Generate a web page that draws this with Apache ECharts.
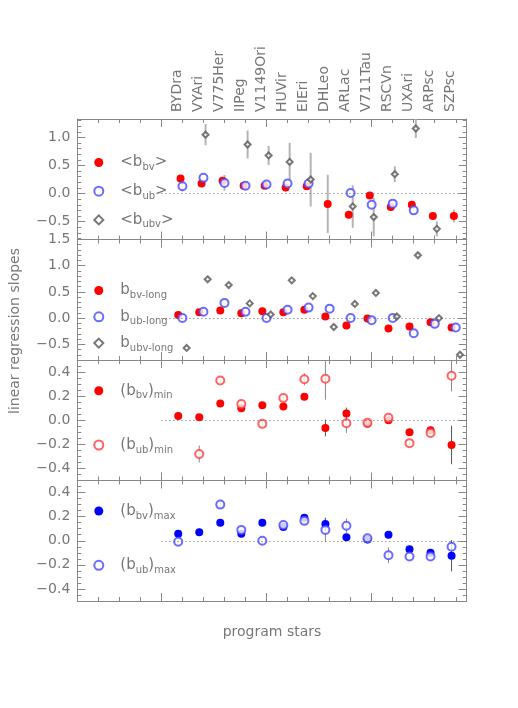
<!DOCTYPE html>
<html>
<head>
<meta charset="utf-8">
<script src="https://cdn.jsdelivr.net/npm/echarts@6/dist/echarts.min.js"></script>
<style>
  html, body { margin: 0; background: #fff; }
  #chart { width: 518px; height: 708px; }
</style>
</head>
<body>
<div id="chart"></div>
<script>
  // star names (x categories)
  const stars = ['BYDra', 'VYAri', 'V775Her', 'IIPeg', 'V1149Ori', 'HUVir', 'EIEri', 'DHLeo',
    'ARLac', 'V711Tau', 'RSCVn', 'UXAri', 'ARPsc', 'SZPsc']

  // panel 1: mean slopes
  const bvMean = [0.27, 0.18, 0.23, 0.14, 0.14, 0.11, 0.13, -0.185, -0.38, -0.035, -0.24, -0.20, -0.40, -0.40]
  const bvMeanErr = [0.03, 0.02, 0.02, 0.02, 0.02, 0.02, 0.02, 0.52, 0.06, 0.02, 0.02, 0.02, 0.05, 0.11]
  const ubMean = [0.13, 0.28, 0.19, 0.14, 0.16, 0.18, 0.18, null, 0.01, -0.20, -0.18, -0.30, null, null]
  const ubMeanErr = [0.09, 0, 0.14, 0, 0, 0, 0, 0, 0, 0, 0, 0, 0, 0]
  const ubvMean = [null, 1.05, null, 0.875, 0.68, 0.565, 0.25, null, -0.23, -0.42, 0.345, 1.16, -0.63, null]
  const ubvMeanErr = [0, 0.19, 0, 0.25, 0.17, 0.34, 0.48, 0, 0.38, 0.34, 0.14, 0.17, 0.13, 0]

  // panel 2: long-term slopes
  const bvLong = [0.06, 0.11, 0.145, 0.09, 0.13, 0.11, 0.16, 0.03, -0.14, -0.01, -0.20, -0.16, -0.08, -0.18]
  const ubLong = [0.0, 0.12, 0.29, 0.12, 0.0, 0.16, 0.20, 0.18, 0.0, -0.04, 0.0, -0.29, -0.11, -0.18]
  const ubvLong = [-0.57, 0.74, 0.63, 0.28, 0.07, 0.72, 0.42, -0.17, 0.27, 0.48, 0.03, 1.20, 0.0, -0.70]
  const ubvLongErr = [0, 0, 0, 0, 0, 0, 0, 0, 0, 0, 0.05, 0, 0, 0.04]

  // panel 3: slopes at minimum
  const bvMin = [0.036, 0.025, 0.14, 0.10, 0.125, 0.115, 0.195, -0.064, 0.055, -0.03, 0.0, -0.10, -0.083, -0.205]
  const bvMinErr = [0.03, 0.02, 0, 0, 0, 0, 0, 0.07, 0.05, 0.02, 0.02, 0, 0.02, 0.16]
  const ubMin = [null, -0.28, 0.33, 0.135, -0.03, 0.185, 0.34, 0.345, -0.025, -0.02, 0.02, -0.19, -0.105, 0.37]
  const ubMinErr = [0, 0.07, 0.02, 0.02, 0.02, 0.02, 0.05, 0.175, 0.08, 0.02, 0.02, 0.02, 0.02, 0.13]

  // panel 4: slopes at maximum
  const bvMax = [0.058, 0.07, 0.15, 0.058, 0.15, 0.115, 0.19, 0.14, 0.03, 0.01, 0.05, -0.07, -0.10, -0.125]
  const bvMaxErr = [0, 0.03, 0, 0, 0, 0, 0, 0.05, 0, 0.02, 0.03, 0, 0, 0.13]
  const ubMax = [-0.008, null, 0.30, 0.09, 0.0, 0.13, 0.165, 0.09, 0.125, 0.02, -0.12, -0.13, -0.13, -0.05]
  const ubMaxErr = [0.02, 0, 0.02, 0, 0.02, 0, 0.03, 0.1, 0.06, 0, 0.065, 0, 0, 0.02]

  // y tick labels per panel
  const yTicks1 = [-0.5, 0, 0.5, 1.0]
  const yTicks2 = [-0.5, 0, 0.5, 1.0, 1.5]
  const yTicks34 = [-0.4, -0.2, 0, 0.2, 0.4]

  const FONT = 'DejaVu Sans'
  const TXT = '#777'
  const AX = '#888'
  const XMAX = 18.52
  const H = 120.5

  function steps(a, b, s) {
    var out = []
    for (var v = Math.ceil(a / s - 1e-6) * s; v <= b + 1e-9; v += s) out.push(Math.round(v * 1000) / 1000)
    return out
  }
  function fmt(v) {
    return (v < 0 ? '\u2212' : '') + Math.abs(v).toFixed(1)
  }

  const panels = [
    {top: 119, min: -0.82, max: 1.33, major: yTicks1, minor: 0.1},
    {top: 239.5, min: -0.8, max: 1.5, major: yTicks2, minor: 0.1},
    {top: 360, min: -0.5, max: 0.5, major: yTicks34, minor: 0.05},
    {top: 480.5, min: -0.5, max: 0.5, major: yTicks34, minor: 0.05},
  ]

  const grids = [], xAxes = [], yAxes = [], series = [], legends = []
  const xMinor = steps(1, XMAX, 1)
  const xMajor = [4, 9, 14]

  panels.forEach(function (p, g) {
    grids.push({left: 77.3, right: 518 - 466.7, top: p.top, height: H})
    ;['bottom', 'top'].forEach(function (pos) {
      xAxes.push({
        gridIndex: g, type: 'value', min: 0, max: XMAX, position: pos,
        axisLine: {show: true, onZero: false, lineStyle: {color: AX}},
        axisTick: {inside: true, length: 4, customValues: xMinor, lineStyle: {color: AX}},
        axisLabel: {show: false}, splitLine: {show: false},
        name: (g === 3 && pos === 'bottom') ? 'program stars' : '',
        nameLocation: 'middle', nameGap: 24,
        nameTextStyle: {fontSize: 14, color: TXT, fontFamily: FONT},
      })
      xAxes.push({
        gridIndex: g, type: 'value', min: 0, max: XMAX, position: pos,
        axisLine: {show: false, onZero: false},
        axisTick: {inside: true, length: 8, customValues: xMajor, lineStyle: {color: AX}},
        axisLabel: {show: false}, splitLine: {show: false},
      })
    })
    var minorY = steps(p.min, p.max, p.minor)
    ;['left', 'right'].forEach(function (pos) {
      yAxes.push({
        gridIndex: g, type: 'value', min: p.min, max: p.max, position: pos,
        axisLine: {show: true, onZero: false, lineStyle: {color: AX}},
        axisTick: {inside: true, length: 8, customValues: p.major, lineStyle: {color: AX}},
        axisLabel: {
          show: pos === 'left', customValues: p.major, formatter: fmt, margin: 7,
          fontSize: 14, color: TXT, fontFamily: FONT,
        },
        splitLine: {show: false},
      })
      yAxes.push({
        gridIndex: g, type: 'value', min: p.min, max: p.max, position: pos,
        axisLine: {show: false, onZero: false},
        axisTick: {inside: true, length: 4, customValues: minorY, lineStyle: {color: AX}},
        axisLabel: {show: false}, splitLine: {show: false},
      })
    })
  })

  // star names on top
  grids.push({left: 166.5, right: 518 - 461.2, top: 119, height: 1})
  xAxes.push({
    gridIndex: 4, type: 'category', data: stars, position: 'top', boundaryGap: true,
    axisLine: {show: false}, axisTick: {show: false},
    axisLabel: {rotate: 90, margin: 7, fontSize: 14, color: TXT, fontFamily: FONT, interval: 0},
  })
  yAxes.push({gridIndex: 4, type: 'value', show: false})

  // series helpers
  function pts(vals, off) {
    var out = []
    vals.forEach(function (v, i) { if (v !== null) out.push([off + i, v]) })
    return out
  }
  function bars(vals, errs, off) {
    var out = []
    vals.forEach(function (v, i) { if (v !== null && errs[i] > 0) out.push([off + i, v - errs[i], v + errs[i]]) })
    return out
  }
  function xi(g) { return g * 4 }
  function yi(g) { return g * 4 }

  function errSeries(g, data, color, width) {
    series.push({
      type: 'custom', xAxisIndex: xi(g), yAxisIndex: yi(g), silent: true, z: 1,
      clip: true,
      renderItem: function (params, api) {
        var a = api.coord([api.value(0), api.value(1)])
        var b = api.coord([api.value(0), api.value(2)])
        return {type: 'line', shape: {x1: a[0], y1: a[1], x2: b[0], y2: b[1]},
          style: {stroke: color, lineWidth: width}}
      },
      data: data,
    })
  }
  function dotSeries(g, name, data, symbol, size, color, z, zero) {
    var s = {
      name: name, type: 'scatter', xAxisIndex: xi(g), yAxisIndex: yi(g), z: z,
      symbol: symbol, symbolSize: size, data: data, silent: true,
      itemStyle: symbol.indexOf('empty') === 0
        ? {color: color, borderColor: color, borderWidth: 1}
        : {color: color, opacity: 1},
    }
    if (zero) {
      s.markLine = {
        silent: true, symbol: 'none', label: {show: false},
        lineStyle: {color: '#666', type: [1, 3], width: 1},
        data: [[{coord: [4, 0]}, {coord: [XMAX, 0]}]],
      }
    }
    series.push(s)
  }

  const RED = '#ff0000', BLUE = '#0000ff', OBLUE = '#4646ff', ORED = '#ff3c3c', GRAY = '#555'

  // panel 1
  errSeries(0, bars(ubvMean, ubvMeanErr, 5.1), '#b4b4b4', 2)
  errSeries(0, bars(ubMean, ubMeanErr, 5.0), '#b4b4b4', 2)
  errSeries(0, bars(bvMean, bvMeanErr, 4.91), '#b4b4b4', 2)
  dotSeries(0, 'm_bv', pts(bvMean, 4.91), 'circle', 8, RED, 3, true)
  dotSeries(0, 'm_ub', pts(ubMean, 5.0), 'emptyCircle', 8, OBLUE, 4)
  dotSeries(0, 'm_ubv', pts(ubvMean, 5.1), 'emptyDiamond', 6, GRAY, 5)
  // panel 2
  errSeries(1, bars(ubvLong, ubvLongErr, 5.2), '#999', 1)
  dotSeries(1, 'l_bv', pts(bvLong, 4.8), 'circle', 8, RED, 3, true)
  dotSeries(1, 'l_ub', pts(ubLong, 5.0), 'emptyCircle', 8, OBLUE, 4)
  dotSeries(1, 'l_ubv', pts(ubvLong, 5.2), 'emptyDiamond', 6, GRAY, 5)
  // panel 3
  errSeries(2, bars(ubMin, ubMinErr, 4.8), '#888', 1)
  dotSeries(2, 'n_bv', pts(bvMin, 4.8), 'circle', 8, RED, 3, true)
  dotSeries(2, 'n_ub', pts(ubMin, 4.8), 'emptyCircle', 8, ORED, 4)
  errSeries(2, bars(bvMin, bvMinErr, 4.8), '#555', 1)
  // panel 4
  errSeries(3, bars(ubMax, ubMaxErr, 4.8), '#888', 1)
  dotSeries(3, 'x_bv', pts(bvMax, 4.8), 'circle', 8, BLUE, 3, true)
  dotSeries(3, 'x_ub', pts(ubMax, 4.8), 'emptyCircle', 8, OBLUE, 4)
  errSeries(3, bars(bvMax, bvMaxErr, 4.8), '#555', 1)

  // legend labels (rich text with subscripts)
  const legendText = {
    m_bv: '{n|<b}{s|bv}{n|>}', m_ub: '{n|<b}{s|ub}{n|>}', m_ubv: '{n|<b}{s|ubv}{n|>}',
    l_bv: '{n|b}{s|bv-long}', l_ub: '{n|b}{s|ub-long}', l_ubv: '{n|b}{s|ubv-long}',
    n_bv: '{n|(b}{s|bv}{n|)}{s|min}', n_ub: '{n|(b}{s|ub}{n|)}{s|min}',
    x_bv: '{n|(b}{s|bv}{n|)}{s|max}', x_ub: '{n|(b}{s|ub}{n|)}{s|max}',
  }
  const rich = {
    n: {fontSize: 15, color: TXT, fontFamily: FONT, lineHeight: 20},
    s: {fontSize: 10, color: TXT, fontFamily: FONT, lineHeight: 20, padding: [10, 0, 0, 0]},
  }
  function legend(names, icons, top, gap) {
    return {
      orient: 'vertical', left: 93.3, top: top, padding: 0, itemGap: gap,
      itemWidth: 9, itemHeight: 9, selectedMode: false,
      data: names.map(function (n, i) { return {name: n, icon: icons[i]} }),
      formatter: function (n) { return legendText[n] },
      textStyle: {rich: rich, padding: [0, 0, 0, 12]},
    }
  }
  legends.push(legend(['m_bv', 'm_ub', 'm_ubv'], ['circle', 'emptyCircle', 'emptyDiamond'], 152.5, 8.7))
  legends.push(legend(['l_bv', 'l_ub', 'l_ubv'], ['circle', 'emptyCircle', 'emptyDiamond'], 280.5, 6.3))
  legends.push(legend(['n_bv', 'n_ub'], ['circle', 'emptyCircle'], 380.7, 34.3))
  legends.push(legend(['x_bv', 'x_ub'], ['circle', 'emptyCircle'], 501, 34.3))

  const chart = echarts.init(document.getElementById('chart'), null, {renderer: 'canvas'})
  chart.setOption({
    backgroundColor: '#fff',
    animation: false,
    textStyle: {fontFamily: FONT},
    grid: grids,
    xAxis: xAxes,
    yAxis: yAxes,
    legend: legends,
    graphic: [{
      type: 'text', x: 15, y: 331, rotation: Math.PI / 2,
      style: {text: 'linear regression slopes', fontSize: 14, fontFamily: FONT, fill: TXT,
        align: 'center', verticalAlign: 'middle', textAlign: 'center', textVerticalAlign: 'middle'},
    }],
    series: series,
  })
</script>
</body>
</html>
